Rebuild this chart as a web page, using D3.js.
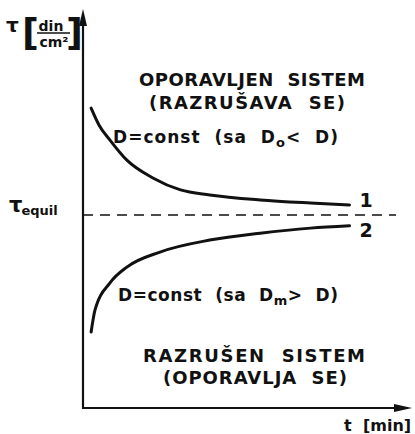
<!DOCTYPE html>
<html>
<head>
<meta charset="utf-8">
<script src="https://cdn.jsdelivr.net/npm/d3@7"></script>
<style>
  html, body { margin: 0; padding: 0; background: #fff; }
  svg { display: block; }
  text { font-family: "DejaVu Sans", sans-serif; font-weight: bold; fill: #111; }
</style>
</head>
<body>
<svg id="chart" width="415" height="434"></svg>
<script>
// Time (arbitrary units) and shear stress for the two thixotropic curves
const timeUpper = [2.5, 5, 8.3, 13.5, 21.5, 30, 39, 54.5, 70, 82];
const tauUpper  = [77.7, 73.2, 69.4, 64.2, 59.6, 56.5, 55.2, 53.9, 53.1, 52.6];
const timeLower = [2.5, 3.7, 8.3, 13.5, 23.7, 39, 54.5, 70, 82];
const tauLower  = [19.7, 25.4, 32.4, 36.5, 40.4, 43.5, 45.3, 46.6, 47.2];
const tauEquil = 50;
const curveLabels = ["1", "2"];

const svg = d3.select("#chart");
const x = d3.scaleLinear().domain([0, 100]).range([83, 408]);
const y = d3.scaleLinear().domain([0, 100]).range([408, 22]);
const ink = "#111";

// Axes with arrowheads
svg.append("line").attr("x1", x(0)).attr("x2", x(0)).attr("y1", y(0) + 1).attr("y2", 18)
  .attr("stroke", ink).attr("stroke-width", 2.2);
svg.append("line").attr("x1", x(0) - 1).attr("x2", 402).attr("y1", y(0)).attr("y2", y(0))
  .attr("stroke", ink).attr("stroke-width", 2.2);
svg.append("path").attr("d", `M${x(0)},9 L${x(0) - 4},26 L${x(0) + 4},26 Z`).attr("fill", ink);
svg.append("path").attr("d", `M412,${y(0)} L394,${y(0) - 4} L394,${y(0) + 4} Z`).attr("fill", ink);

// Equilibrium stress (dashed)
svg.append("line").attr("x1", x(0)).attr("x2", 396).attr("y1", y(tauEquil)).attr("y2", y(tauEquil))
  .attr("stroke", ink).attr("stroke-width", 1.6).attr("stroke-dasharray", "10,7");

// Curves
const line = d3.line().x(d => x(d[0])).y(d => y(d[1])).curve(d3.curveMonotoneX);
const upper = timeUpper.map((t, i) => [t, tauUpper[i]]);
const lower = timeLower.map((t, i) => [t, tauLower[i]]);
[upper, lower].forEach(pts => {
  svg.append("path").attr("d", line(pts)).attr("fill", "none")
    .attr("stroke", ink).attr("stroke-width", 3).attr("stroke-linecap", "round");
});

// Curve numbers
svg.append("text").attr("x", x(timeUpper[timeUpper.length - 1]) + 10).attr("y", y(tauUpper[tauUpper.length - 1]) + 2)
  .attr("font-size", 19).text(curveLabels[0]);
svg.append("text").attr("x", x(timeLower[timeLower.length - 1]) + 10).attr("y", y(tauLower[tauLower.length - 1]) + 11)
  .attr("font-size", 19).text(curveLabels[1]);

// Region captions
function caption(txt, cx, by, size, len) {
  svg.append("text").attr("x", cx).attr("y", by).attr("font-size", size)
    .attr("text-anchor", "middle").attr("textLength", len).attr("lengthAdjust", "spacing")
    .attr("xml:space", "preserve").text(txt);
}
caption("OPORAVLJEN  SISTEM", 252, 86, 18, 226);
caption("(RAZRUŠAVA  SE)", 247, 109, 18, 196);
caption("RAZRUŠEN  SISTEM", 254, 362, 18, 222);
caption("(OPORAVLJA  SE)", 255, 384, 18, 184);

// Stability conditions, spread to a fixed width
function condition(sub, rel, xs, by, width) {
  const t = svg.append("text").attr("x", xs).attr("y", by).attr("font-size", 17)
    .attr("xml:space", "preserve");
  t.append("tspan").text("D=const  (sa  D");
  t.append("tspan").attr("font-size", 13).attr("dy", 4).text(sub);
  t.append("tspan").attr("dy", -4).text(rel + " D)");
  const n = "D=const  (sa  D".length + sub.length + (rel + " D)").length;
  const w = t.node().getBBox().width;
  t.attr("letter-spacing", Math.max(0, (width - w) / (n - 1)));
}
condition("o", "< ", 113, 143, 225);
condition("m", "> ", 118, 301, 220);

// Axis titles
svg.append("text").attr("x", 6).attr("y", 32).attr("font-size", 20).attr("font-family", "DejaVu Serif").text("τ");
svg.append("text").attr("x", 22).attr("y", 46).attr("font-size", 37).attr("font-weight", "normal").text("[");
svg.append("text").attr("x", 66).attr("y", 46).attr("font-size", 37).attr("font-weight", "normal").text("]");
svg.append("text").attr("x", 51).attr("y", 31).attr("font-size", 14).attr("text-anchor", "middle").text("din");
svg.append("line").attr("x1", 37).attr("x2", 70).attr("y1", 33).attr("y2", 33).attr("stroke", ink).attr("stroke-width", 1.6);
svg.append("text").attr("x", 54).attr("y", 47).attr("font-size", 14).attr("text-anchor", "middle").text("cm²");

const eq = svg.append("text").attr("x", 9).attr("y", 212).attr("font-size", 21).attr("font-family", "DejaVu Serif");
eq.append("tspan").text("τ");
eq.append("tspan").attr("font-size", 13).attr("font-family", "DejaVu Sans").attr("dy", 3).attr("dx", -1).text("equil");

svg.append("text").attr("x", 344).attr("y", 431).attr("font-size", 16).text("t");
svg.append("text").attr("x", 363).attr("y", 431).attr("font-size", 16).attr("xml:space", "preserve").text("[min]");
</script>
</body>
</html>
